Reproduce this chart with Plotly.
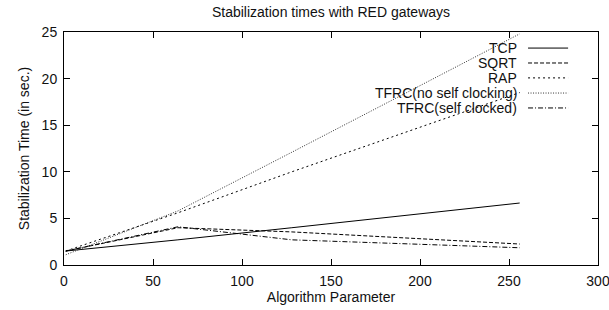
import plotly.graph_objects as go

# Data
x_param = [1, 64, 128, 256]
tcp = [1.5, 2.7, 4.0, 6.65]
sqrt_ = [1.5, 4.0, 3.55, 2.25]
rap = [1.5, 5.6, 10.0, 18.5]
tfrc_noclock = [1.1, 5.8, 12.1, 24.8]
tfrc_clocked = [1.5, 4.1, 2.7, 1.85]

series_names = ["TCP", "SQRT", "RAP", "TFRC(no self clocking)", "TFRC(self clocked)"]
series_vals = [tcp, sqrt_, rap, tfrc_noclock, tfrc_clocked]
dashes = ["solid", "4px,2px", "2px,3px", "1px,1.5px", "5px,2px,1px,2px"]
colors = ["#000000", "#000000", "#000000", "#333333", "#000000"]

x_ticks = [0, 50, 100, 150, 200, 250, 300]
y_ticks = [0, 5, 10, 15, 20, 25]

FONT = "Liberation Sans, Arial, Helvetica, sans-serif"
FS = 14

fig = go.Figure()
for name, vals, d, c in zip(series_names, series_vals, dashes, colors):
    fig.add_trace(go.Scatter(x=x_param, y=vals, mode="lines", name=name,
                             line=dict(color=c, width=1, dash=d),
                             showlegend=False, hoverinfo="skip"))

# gnuplot-style key: right-aligned text with line sample on the right
row_y = [0.931, 0.867, 0.803, 0.738, 0.674]
for name, yy, d, c in zip(series_names, row_y, dashes, colors):
    fig.add_annotation(x=0.851, y=yy, xref="paper", yref="paper", text=name,
                       showarrow=False, xanchor="right", yanchor="middle",
                       font=dict(family=FONT, size=FS, color="#111"),
                       borderpad=0)
    fig.add_shape(type="line", xref="paper", yref="paper",
                  x0=0.869, x1=0.944, y0=yy, y1=yy,
                  line=dict(color=c, width=1, dash=d))

axis_common = dict(showline=True, linecolor="black", linewidth=1, mirror="allticks",
                   ticks="inside", ticklen=6, tickcolor="black", tickwidth=1,
                   showgrid=False, zeroline=False, automargin=False,
                   ticklabeloverflow="allow", ticklabelstandoff=3,
                   tickfont=dict(family=FONT, size=FS, color="#111"))

fig.update_layout(
    width=609, height=310,
    margin=dict(l=64, r=11, t=32, b=45, autoexpand=False),
    paper_bgcolor="white", plot_bgcolor="white",
    title=dict(text="Stabilization times with RED gateways", x=0.5, xanchor="center",
               y=1 - 12 / 310, yanchor="middle", xref="paper",
               font=dict(family=FONT, size=FS, color="#111")),
    xaxis=dict(range=[0, 300], tickvals=x_ticks, ticktext=[str(v) for v in x_ticks],
               title=dict(text="Algorithm Parameter", standoff=4,
                          font=dict(family=FONT, size=FS, color="#111")),
               **axis_common),
    yaxis=dict(range=[0, 25], tickvals=y_ticks, ticktext=[str(v) for v in y_ticks],
               title=dict(text="Stabilization Time (in sec.)", standoff=8,
                          font=dict(family=FONT, size=FS, color="#111")),
               **axis_common),
    showlegend=False,
)

fig.write_html("out.html", config={"displayModeBar": False, "staticPlot": True},
               post_script="document.body.style.margin='0';document.body.style.overflow='hidden';")
